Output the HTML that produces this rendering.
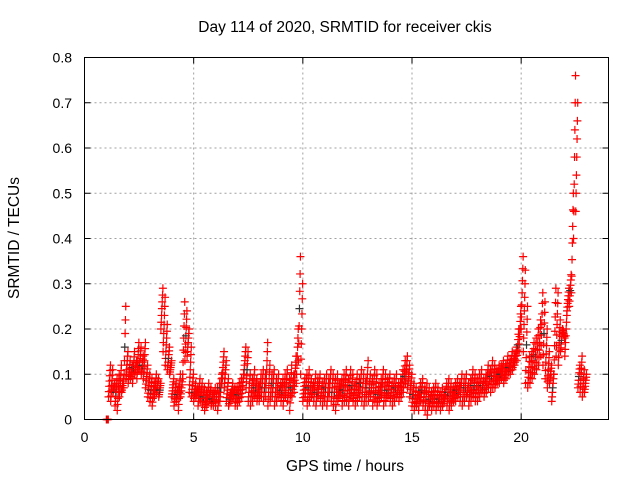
<!DOCTYPE html>
<html><head><meta charset="utf-8"><style>
body{margin:0;background:#fff;font-family:"Liberation Sans",sans-serif;}
svg text{font-family:"Liberation Sans",sans-serif;font-size:14px;fill:#000;}
svg text.big{font-size:15.5px;}
</style></head><body>
<svg id="chart" width="640" height="480">
<text class="big" x="345" y="32" text-anchor="middle">Day 114 of 2020, SRMTID for receiver ckis</text>
<text class="big" transform="translate(19,238) rotate(-90)" text-anchor="middle">SRMTID / TECUs</text>
<text class="big" x="345" y="471" text-anchor="middle">GPS time / hours</text>
<g id="grid"></g><g id="ticks"></g><g id="marks"></g>
<rect x="84.5" y="57.5" width="524" height="362" fill="none" stroke="#000"/>
</svg>
<script>
const xTicks=[0,5,10,15,20];
const yTicks=[0,0.1,0.2,0.3,0.4,0.5,0.6,0.7,0.8];
const yTickLabels=["0","0.1","0.2","0.3","0.4","0.5","0.6","0.7","0.8"];
const startHour=1.0, stepHour=0.1;
const hiVals=[0.00,0.12,0.11,0.08,0.09,0.10,0.12,0.09,0.25,0.15,
0.13,0.12,0.15,0.13,0.17,0.16,0.14,0.17,0.12,0.10,
0.09,0.08,0.10,0.09,0.08,0.29,0.27,0.21,0.16,0.13,
0.09,0.08,0.07,0.10,0.09,0.26,0.24,0.20,0.16,0.10,
0.08,0.07,0.09,0.08,0.07,0.06,0.08,0.07,0.06,0.07,
0.07,0.08,0.10,0.15,0.13,0.09,0.06,0.08,0.07,0.07,
0.08,0.09,0.10,0.16,0.15,0.10,0.09,0.11,0.09,0.08,
0.10,0.11,0.10,0.17,0.12,0.10,0.11,0.09,0.10,0.08,
0.09,0.10,0.11,0.09,0.12,0.10,0.14,0.20,0.36,0.30,
0.09,0.10,0.11,0.09,0.08,0.10,0.09,0.10,0.08,0.09,
0.10,0.09,0.11,0.10,0.09,0.10,0.08,0.09,0.10,0.11,
0.09,0.11,0.10,0.08,0.10,0.09,0.11,0.10,0.09,0.13,
0.10,0.09,0.11,0.10,0.08,0.09,0.11,0.10,0.09,0.10,
0.08,0.09,0.10,0.08,0.09,0.11,0.13,0.14,0.12,0.10,
0.08,0.07,0.06,0.08,0.09,0.07,0.08,0.07,0.06,0.07,
0.08,0.07,0.06,0.07,0.06,0.08,0.09,0.08,0.07,0.08,
0.09,0.08,0.10,0.09,0.10,0.08,0.09,0.11,0.10,0.09,
0.10,0.11,0.09,0.10,0.12,0.11,0.13,0.12,0.11,0.12,
0.12,0.13,0.12,0.14,0.13,0.15,0.14,0.16,0.20,0.25,
0.36,0.33,0.25,0.14,0.15,0.17,0.18,0.20,0.22,0.28,
0.26,0.20,0.15,0.12,0.10,0.29,0.28,0.22,0.20,0.18,
0.23,0.29,0.32,0.50,0.76,0.70,0.12,0.14,0.11,0.10];
const loVals=[0.00,0.05,0.04,0.06,0.03,0.02,0.05,0.06,0.07,0.09,
0.08,0.09,0.08,0.10,0.09,0.11,0.10,0.09,0.07,0.05,
0.04,0.03,0.05,0.06,0.05,0.20,0.15,0.12,0.11,0.10,
0.05,0.03,0.04,0.02,0.05,0.10,0.13,0.14,0.06,0.05,
0.04,0.05,0.03,0.04,0.03,0.02,0.03,0.04,0.03,0.03,
0.03,0.02,0.04,0.08,0.07,0.04,0.03,0.04,0.05,0.03,
0.03,0.04,0.05,0.10,0.07,0.04,0.03,0.04,0.05,0.04,
0.04,0.05,0.04,0.05,0.03,0.04,0.05,0.03,0.04,0.05,
0.04,0.03,0.05,0.04,0.02,0.05,0.06,0.08,0.13,0.10,
0.04,0.05,0.03,0.04,0.05,0.04,0.03,0.05,0.04,0.03,
0.04,0.03,0.05,0.04,0.03,0.02,0.04,0.05,0.03,0.04,
0.04,0.03,0.05,0.04,0.03,0.04,0.05,0.04,0.03,0.04,
0.04,0.05,0.03,0.04,0.03,0.04,0.05,0.03,0.04,0.05,
0.04,0.03,0.04,0.05,0.04,0.05,0.06,0.08,0.07,0.05,
0.03,0.02,0.03,0.02,0.04,0.03,0.02,0.01,0.03,0.02,
0.03,0.02,0.03,0.02,0.03,0.04,0.03,0.02,0.03,0.04,
0.04,0.05,0.04,0.03,0.04,0.05,0.03,0.04,0.05,0.04,
0.04,0.05,0.06,0.05,0.06,0.07,0.06,0.07,0.07,0.08,
0.08,0.09,0.08,0.09,0.10,0.10,0.11,0.12,0.13,0.15,
0.20,0.15,0.08,0.07,0.08,0.09,0.10,0.11,0.12,0.14,
0.12,0.09,0.07,0.08,0.04,0.10,0.14,0.12,0.15,0.20,
0.14,0.24,0.25,0.28,0.40,0.46,0.07,0.06,0.05,0.06];

const X0=84.5,X1=608.5,Y0=419.5,Y1=57.5;
const xS=h=>X0+(h/24)*(X1-X0);
const yS=v=>Y0-(v/0.8)*(Y0-Y1);
const NS="http://www.w3.org/2000/svg";
const grid=document.getElementById('grid'),ticks=document.getElementById('ticks'),marks=document.getElementById('marks');
function mk(tag,attrs,parent){const e=document.createElementNS(NS,tag);for(const k in attrs)e.setAttribute(k,attrs[k]);parent.appendChild(e);return e;}
xTicks.forEach(t=>{const x=xS(t);
 if(t>0){const g=mk('line',{x1:x,x2:x,y1:Y0,y2:Y1,stroke:'#a0a0a0','stroke-dasharray':'2,3'},grid);
 
 }
 mk('line',{x1:x,x2:x,y1:Y0,y2:Y0-6,stroke:'#000'},ticks);mk('line',{x1:x,x2:x,y1:Y1,y2:Y1+6,stroke:'#000'},ticks);
 const l=mk('text',{x:x,y:442,'text-anchor':'middle'},ticks);l.textContent=t;
 
 });
yTicks.forEach((t,i)=>{const y=yS(t);
 if(t>0&&t<0.8){const g=mk('line',{x1:X0,x2:X1,y1:y,y2:y,stroke:'#a0a0a0','stroke-dasharray':'2,3'},grid);
 
 }
 mk('line',{x1:X0,x2:X0+6,y1:y,y2:y,stroke:'#000'},ticks);mk('line',{x1:X1,x2:X1-6,y1:y,y2:y,stroke:'#000'},ticks);
 const l=mk('text',{x:72,y:y+5,'text-anchor':'end'},ticks);l.textContent=yTickLabels[i];
 
 });
function plus(h,v,c){const x=xS(h),y=yS(v);
 const p=mk('path',{d:`M${x-4},${y}H${x+4}M${x},${y-4}V${y+4}`,stroke:c,'stroke-width':1.2,fill:'none'},marks);
 
 }
hiVals.forEach((hv,i)=>{const lv=loVals[i];const h=startHour+i*stepHour;
 const n=6;
 for(let k=0;k<=n;k++){const f=k/n;const hh=h+f*stepHour*0.9;
  plus(hh,lv+(hv-lv)*f,(k===3&&i%4===0)?'#333':'#ff0000');}
});
</script>
</body></html>
